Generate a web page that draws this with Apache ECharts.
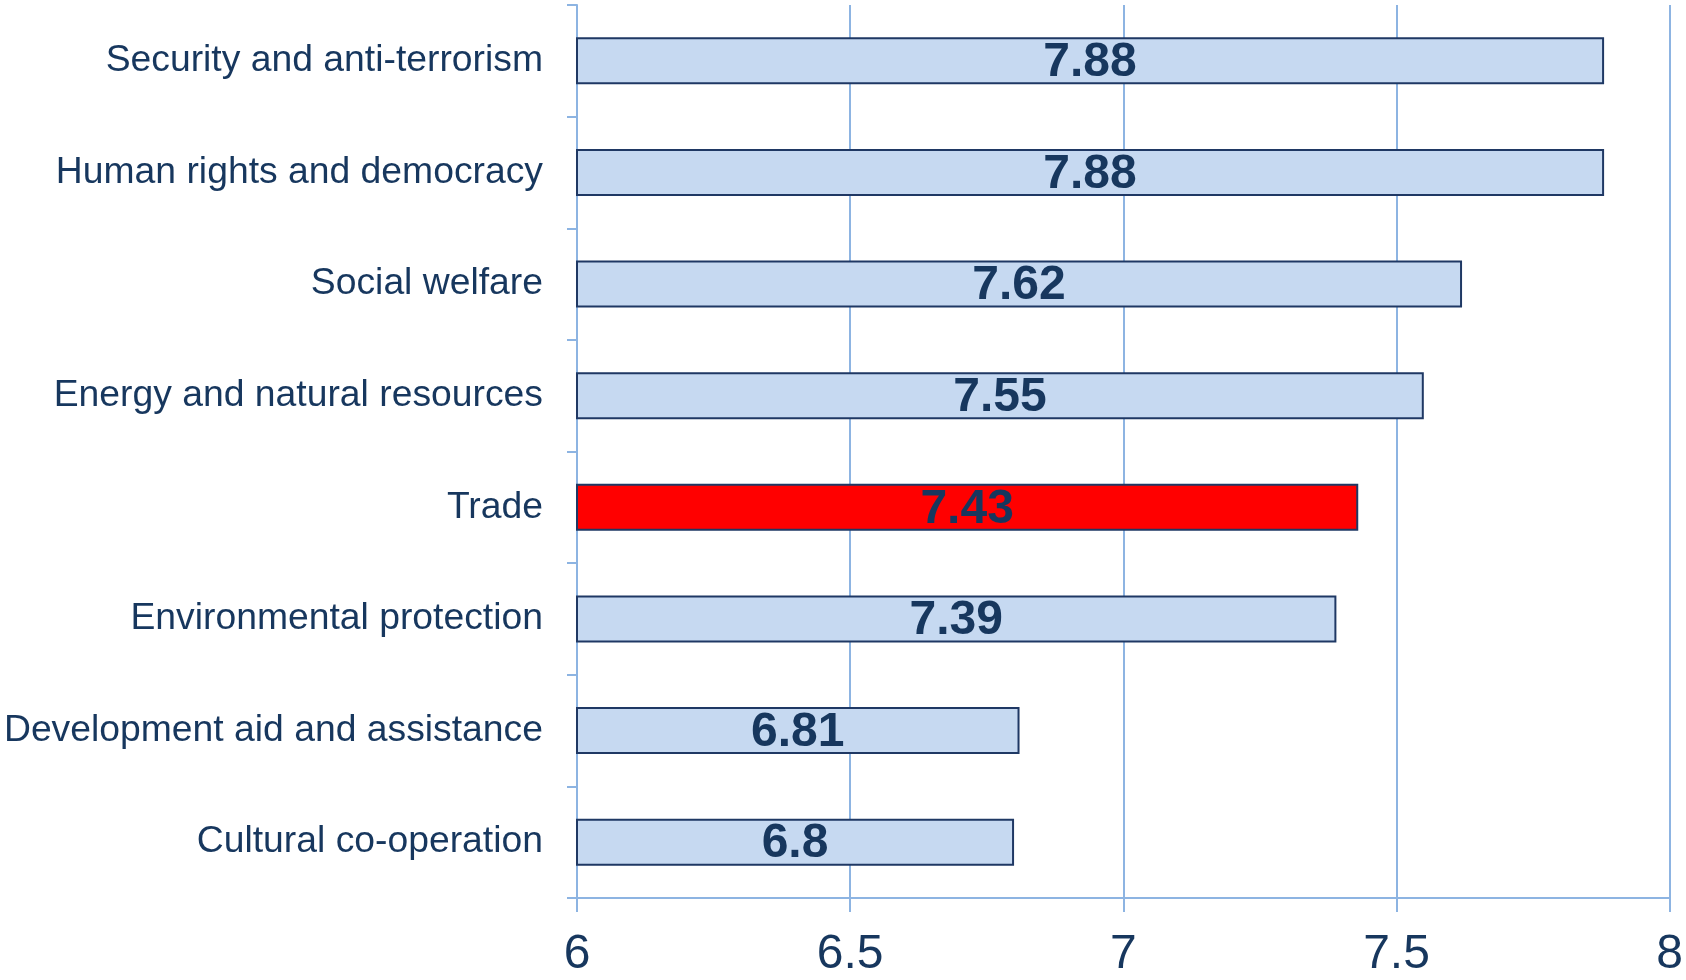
<!DOCTYPE html>
<html>
<head>
<meta charset="utf-8">
<script src="https://cdn.jsdelivr.net/npm/echarts@6/dist/echarts.min.js"></script>
<style>html,body{margin:0;padding:0;background:#fff;}#c{width:1686px;height:980px;}</style>
</head>
<body>
<div id="c"></div>
<script>
const categories = ["Security and anti-terrorism","Human rights and democracy","Social welfare","Energy and natural resources","Trade","Environmental protection","Development aid and assistance","Cultural co-operation"];
const values = [7.88, 7.88, 7.62, 7.55, 7.43, 7.39, 6.81, 6.8];
const highlighted = "Trade";
const xTicks = [6, 6.5, 7, 7.5, 8];

const navy = '#17375E';
const gridBlue = '#8DB4E2';
const chart = echarts.init(document.getElementById('c'));
chart.setOption({
  animation: false,
  grid: {left: 577, right: 14, top: 5, bottom: 82, containLabel: false},
  xAxis: {
    type: 'value', min: 6, max: 8, interval: 0.5,
    axisLine: {show: true, lineStyle: {color: gridBlue, width: 2}},
    axisTick: {show: true, length: 14, lineStyle: {color: gridBlue, width: 2}},
    splitLine: {show: true, lineStyle: {color: gridBlue, width: 2}},
    axisLabel: {color: navy, fontSize: 48, fontFamily: 'Liberation Sans, Arial, sans-serif', margin: 33,
      formatter: v => xTicks.includes(v) ? String(v) : ''}
  },
  yAxis: {
    type: 'category', data: categories, inverse: true,
    axisLine: {show: true, lineStyle: {color: gridBlue, width: 2}},
    axisTick: {show: true, length: 10, lineStyle: {color: gridBlue, width: 2}},
    axisLabel: {color: navy, fontSize: 37.3, fontFamily: 'Liberation Sans, Arial, sans-serif', margin: 34}
  },
  series: [{
    type: 'bar',
    barWidth: '42%',
    data: values.map((v, i) => ({
      value: v,
      itemStyle: {color: categories[i] === highlighted ? '#FF0000' : '#C6D9F1', borderColor: '#1F3864', borderWidth: 2}
    })),
    label: {show: true, position: 'inside', offset: [0, 2], color: navy, fontSize: 48, fontWeight: 'bold', fontFamily: 'Liberation Sans, Arial, sans-serif'}
  }]
});
</script>
</body>
</html>
